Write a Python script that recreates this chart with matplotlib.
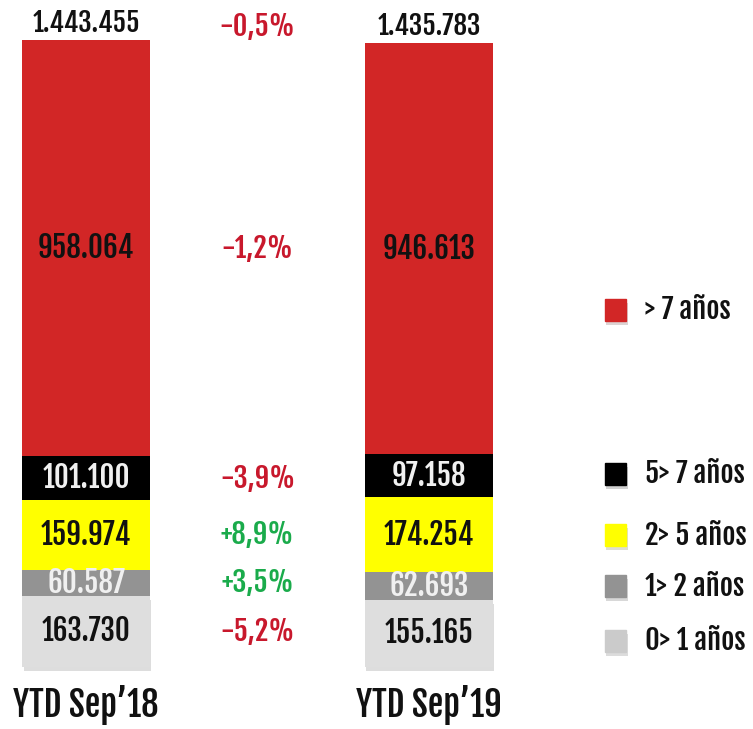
import matplotlib
matplotlib.use('Agg')
import matplotlib.pyplot as plt
from matplotlib.patches import Rectangle
import matplotlib.patheffects as pe

# data
periods = ['YTD Sep\u201918', 'YTD Sep\u201919']
segments = ['0> 1 años', '1> 2 años', '2> 5 años', '5> 7 años', '> 7 años']
values_18 = [163730, 60587, 159974, 101100, 958064]
values_19 = [155165, 62693, 174254, 97158, 946613]
totals = [1443455, 1435783]
changes = ['-5,2%', '+3,5%', '+8,9%', '-3,9%', '-1,2%']
total_change = '-0,5%'

seg_colors = ['#dedede', '#939393', '#ffff00', '#000000', '#d22626']
legend_colors = ['#cbcbcb', '#939393', '#ffff00', '#000000', '#d22626']
text_colors = ['#111111', '#f0f0f0', '#111111', '#f0f0f0', '#111111']

plt.rcParams['font.family'] = ['Fjalla One', 'DejaVu Sans']


def fmt(v):
    return f'{v:,}'.replace(',', '.')


fig = plt.figure(figsize=(7.53, 7.29), dpi=100)
ax = fig.add_axes([0, 0, 1, 1])
ax.set_xlim(-0.251, 1.945)
ax.set_ylim(-142.7, 1535.5)
ax.axis('off')

shadow = [pe.SimplePatchShadow(offset=(1, -3), alpha=0.18), pe.Normal()]
width = 0.373
x = [0, 1]
for i, vals in enumerate([values_18, values_19]):
    bottom = 0
    for j, v in enumerate(vals):
        k = v / 1000
        bar = ax.bar(x[i], k, width, bottom=bottom, color=seg_colors[j], zorder=2)
        if j == 0:
            for b in bar:
                b.set_path_effects(shadow)
        ax.text(x[i], bottom + k / 2, fmt(v), ha='center', va='center',
                fontsize=21, color=text_colors[j], zorder=3)
        bottom += k
    ax.text(x[i], bottom + 5, fmt(totals[i]), ha='center', va='bottom',
            fontsize=19.5, color='#111111')
    ax.text(x[i], -88, periods[i], ha='center', va='center',
            fontsize=25, color='#111111')

# percentage changes between the bars
bottom = 0
for j, v in enumerate(values_18):
    k = v / 1000
    col = '#1aab4b' if changes[j].startswith('+') else '#c8182c'
    ax.text(0.5, bottom + k / 2, changes[j], ha='center', va='center',
            fontsize=20.5, color=col)
    bottom += k
ax.text(0.5, totals[0] / 1000 - 5, total_change, ha='center', va='bottom',
        fontsize=20.5, color='#c8182c')

# legend
leg_y = [0.121, 0.196, 0.266, 0.350, 0.575]
for j in range(len(segments)):
    sq = Rectangle((0.803, leg_y[j] - 0.015), 0.029, 0.03,
                   transform=fig.transFigure, color=legend_colors[j],
                   path_effects=[pe.SimplePatchShadow(offset=(1, -3), alpha=0.18), pe.Normal()])
    fig.patches.append(sq)
    fig.text(0.857, leg_y[j], segments[j], ha='left', va='center',
             fontsize=20.5, color='#111111')

fig.savefig('out.png', dpi=100)
